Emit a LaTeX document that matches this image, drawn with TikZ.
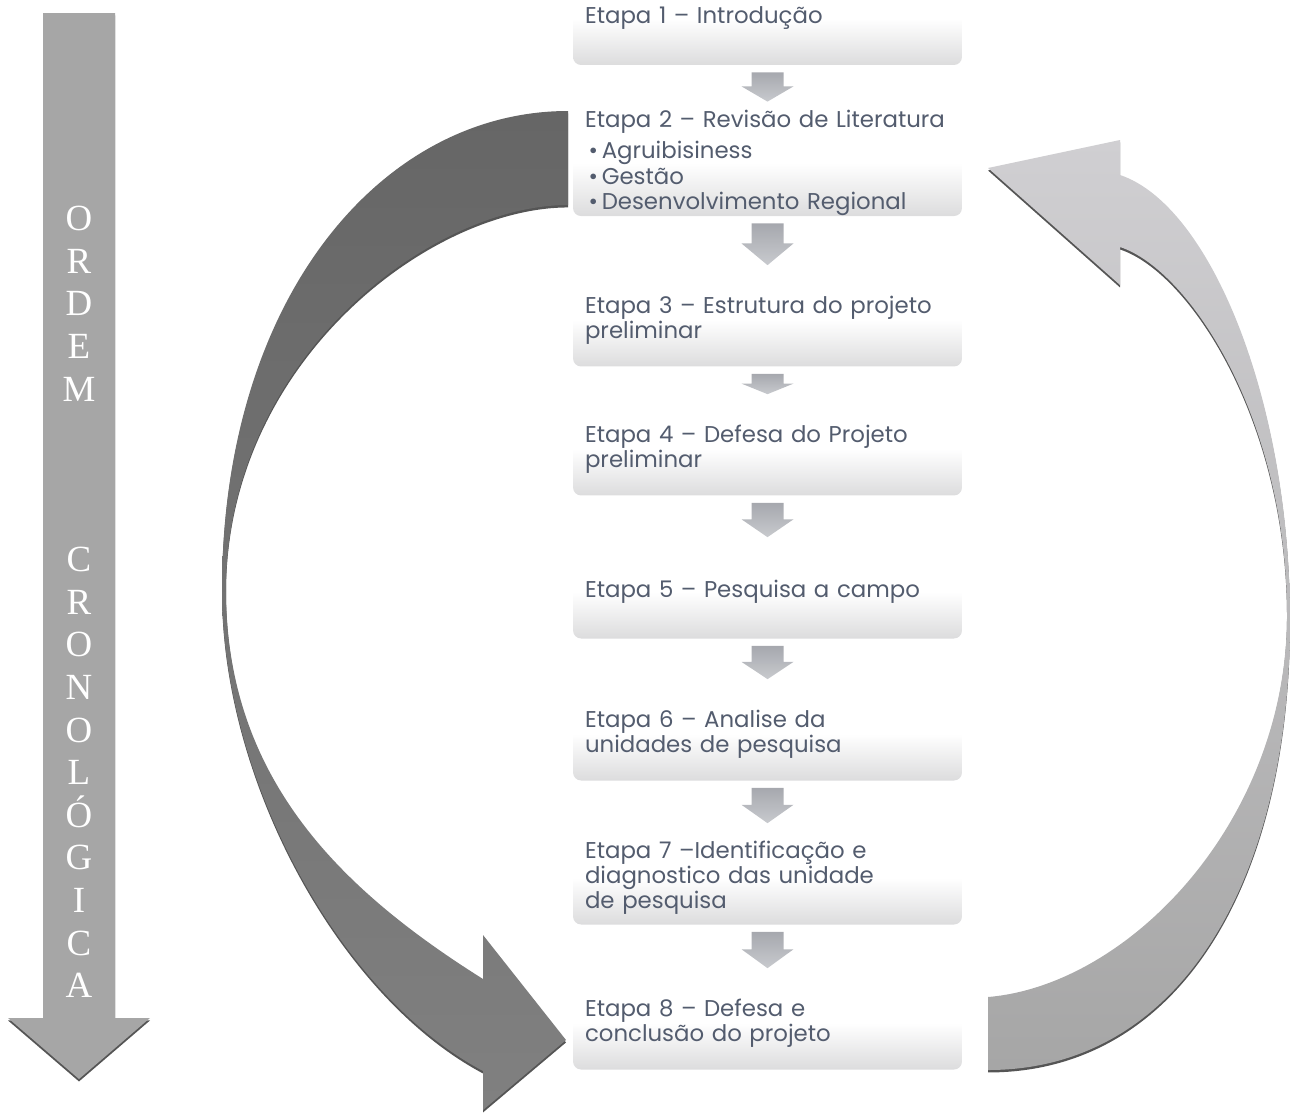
\documentclass[tikz,border=0pt]{standalone}
\usepackage{fontspec}
\setmainfont{Poppins}
\newfontfamily\ordemfont{Liberation Serif}
\usetikzlibrary{calc}
\definecolor{textgray}{RGB}{83,92,110}
\definecolor{boxgray}{RGB}{220,220,221}
\definecolor{darkarrow}{RGB}{102,102,102}
\definecolor{midarrow}{RGB}{128,128,128}
\definecolor{lightarrow}{RGB}{208,207,210}
\definecolor{plainarrow}{RGB}{166,166,166}
\definecolor{shadowgray}{RGB}{85,85,85}
\definecolor{steptop}{RGB}{166,168,174}
\definecolor{stepbot}{RGB}{200,202,206}

\tikzset{
	stage/.style={minimum width=7.78cm, minimum height=1.86cm, text width=7.3cm, align=left,
		inner sep=0pt, rounded corners=0.16cm, top color=white, bottom color=boxgray,
		middle color=white, text=textgray, font=\fontsize{13}{12.8}\selectfont},
	flowarrow/.style={top color=steptop, bottom color=stepbot, draw=none},
	castshadow/.style={preaction={fill=shadowgray, transform canvas={yshift=-1.4pt}}},
	ordem/.style={align=center, text=white, inner sep=0pt,
		font=\ordemfont\fontsize{21}{24.26}\selectfont}
}

\begin{document}
\begin{tikzpicture}[x=0.02cm, y=-0.02cm]
	\useasboundingbox (0,0) rectangle (1290,1112);
	\clip (0,0) rectangle (1290,1112);

	\fill[plainarrow, castshadow] (43,13) -- (115,13) -- (115,1018) -- (150,1018) -- (79,1079) -- (8,1018) -- (43,1018) -- cycle;
	\node[ordem] (ordem) at (79,602) {O\\R\\D\\E\\M\\~\\~\\~\\C\\R\\O\\N\\O\\L\\Ó\\G\\I\\C\\A};

	\node[stage] (e1) at (767.5,18.5) {Etapa 1 – Introdução};
	\node[stage] (e2) at (767.5,163) {Etapa 2 – Revisão de Literatura\\[3.5pt]
		\hspace*{2pt}•\,Agruibisiness\\[1.8pt]
		\hspace*{2pt}•\,Gestão\\[1.8pt]
		\hspace*{2pt}•\,Desenvolvimento Regional};
	\node[stage] (e3) at (767.5,320) {Etapa 3 – Estrutura do projeto\\preliminar};
	\node[stage] (e4) at (767.5,449) {Etapa 4 – Defesa do Projeto\\preliminar};
	\node[stage] (e5) at (767.5,592) {Etapa 5 – Pesquisa a campo};
	\node[stage] (e6) at (767.5,734) {Etapa 6 – Analise da\\unidades de pesquisa};
	\node[stage] (e7) at (767.5,878) {Etapa 7 –Identificação e\\diagnostico das unidade\\de pesquisa};
	\node[stage] (e8) at (767.5,1023) {Etapa 8 – Defesa e\\conclusão do projeto};

	\foreach \a/\b in {e1/e2,e2/e3,e3/e4,e4/e5,e5/e6,e6/e7,e7/e8} {
		\coordinate (s) at ($(\a.south)+(0,7)$);
		\coordinate (t) at ($(\b.north)+(0,-8)$);
		\coordinate (h) at ($(s)!0.48!(t)$);
		\shade[flowarrow] ($(s)+(-16,0)$) -- ($(h)+(-16,0)$) -- ($(h)+(-26,0)$) -- (t)
			-- ($(h)+(26,0)$) -- ($(h)+(16,0)$) -- ($(s)+(16,0)$) -- cycle;
	}

	\shade[castshadow, top color=darkarrow, bottom color=midarrow]
		(568,111) .. controls (380,111) and (222,300) .. (222,590)
		.. controls (222,780) and (340,995) .. (483,1071)
		-- (483,1110) -- (566,1040) -- (483,935) -- (483,979)
		.. controls (343,891) and (226,780) .. (226,590)
		.. controls (226,360) and (430,205) .. (568,205)
		-- cycle;

	\shade[castshadow, top color=lightarrow, bottom color=plainarrow]
		(988,1070) .. controls (1180,1070) and (1290,880) .. (1290,620)
		.. controls (1290,400) and (1210,205) .. (1120,175)
		-- (1120,140) -- (988,168) -- (1120,285) -- (1120,247)
		.. controls (1190,270) and (1287,420) .. (1287,615)
		.. controls (1287,820) and (1130,985) .. (988,997)
		-- cycle;
\end{tikzpicture}
\end{document}
